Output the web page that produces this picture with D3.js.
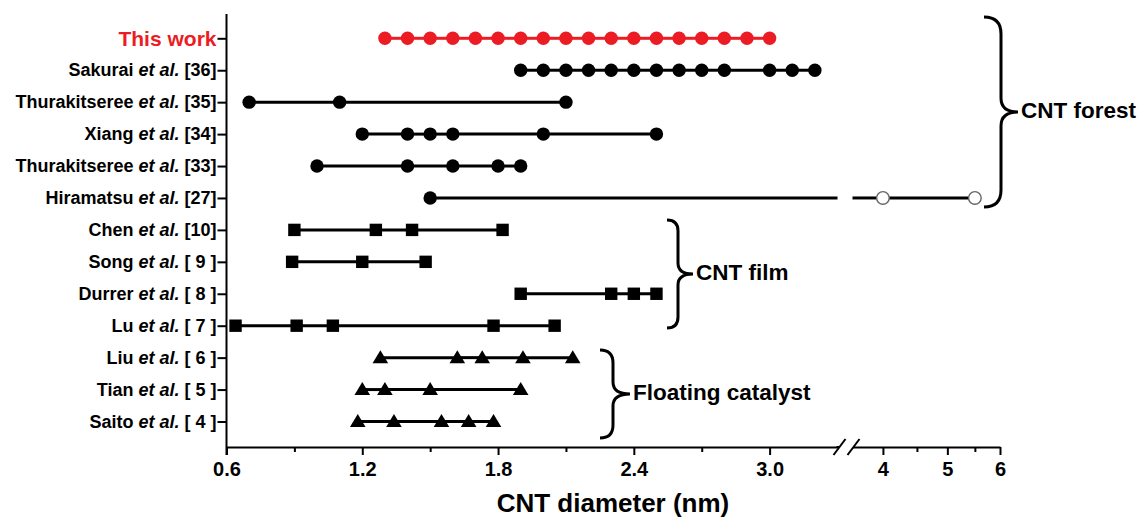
<!DOCTYPE html>
<html>
<head>
<meta charset="utf-8">
<script src="https://cdn.jsdelivr.net/npm/d3@7"></script>
<style>
  html, body { margin: 0; padding: 0; background: #fff; }
  svg { display: block; font-family: "Liberation Sans", Arial, Helvetica, sans-serif; }
</style>
</head>
<body>
<svg id="chart" width="1145" height="520"></svg>
<script>
// ---------------- DATA ----------------
const rowKeys   = ["this", "sak36", "thu35", "xia34", "thu33", "hir27", "che10", "son9", "dur8", "lu7", "liu6", "tia5", "sai4"];
const authors   = ["This work", "Sakurai", "Thurakitseree", "Xiang", "Thurakitseree", "Hiramatsu", "Chen", "Song", "Durrer", "Lu", "Liu", "Tian", "Saito"];
const refs      = ["", "[36]", "[35]", "[34]", "[33]", "[27]", "[10]", "[ 9 ]", "[ 8 ]", "[ 7 ]", "[ 6 ]", "[ 5 ]", "[ 4 ]"];
const markerTypes = ["redcircle", "circle", "circle", "circle", "circle", "circle", "square", "square", "square", "square", "triangle", "triangle", "triangle"];

const thisWork   = [1.3, 1.4, 1.5, 1.6, 1.7, 1.8, 1.9, 2.0, 2.1, 2.2, 2.3, 2.4, 2.5, 2.6, 2.7, 2.8, 2.9, 3.0];
const sakurai36  = [1.9, 2.0, 2.1, 2.2, 2.3, 2.4, 2.5, 2.6, 2.7, 2.8, 3.0, 3.1, 3.2];
const thura35    = [0.7, 1.1, 2.1];
const xiang34    = [1.2, 1.4, 1.5, 1.6, 2.0, 2.5];
const thura33    = [1.0, 1.4, 1.6, 1.8, 1.9];
const hiramatsu27 = [1.5, 4.0, 5.5];
const hiramatsuOpen = [false, true, true];
const chen10     = [0.9, 1.26, 1.42, 1.82];
const song9      = [0.89, 1.2, 1.48];
const durrer8    = [1.9, 2.3, 2.4, 2.5];
const lu7        = [0.64, 0.91, 1.07, 1.78, 2.05];
const liu6       = [1.28, 1.62, 1.73, 1.91, 2.13];
const tian5      = [1.2, 1.3, 1.5, 1.9];
const saito4     = [1.18, 1.34, 1.55, 1.67, 1.78];
const seriesValues = [thisWork, sakurai36, thura35, xiang34, thura33, hiramatsu27, chen10, song9, durrer8, lu7, liu6, tian5, saito4];

const majorTicksLin = [0.6, 1.2, 1.8, 2.4, 3.0];
const minorTicksLin = [0.9, 1.5, 2.1, 2.7];
const majorTicksLog = [4, 5, 6];
const minorTicksLog = [4.5, 5.5];
const axisTitle = "CNT diameter (nm)";

const groups = [
  { name: "CNT forest",        from: "this",  to: "hir27" },
  { name: "CNT film",          from: "che10", to: "lu7"   },
  { name: "Floating catalyst", from: "liu6",  to: "sai4"  }
];

// ---------------- LAYOUT ----------------
const svg = d3.select("#chart");
const axisY = 447;
const axisLeftX = 226.5;
const RED = "#ec1c24";

const linDomain = [0.6, 3.3], logDomain = [3.6, 6];
const xLin = d3.scaleLinear().domain(linDomain).range([axisLeftX, 837.5]);
const xLog = d3.scaleLog().domain(logDomain).range([852.5, 1000]);
const breakValue = 3.45;
const xPos = v => v <= breakValue ? xLin(v) : xLog(v);

const y = d3.scalePoint().domain(rowKeys).range([38.3, 421.5]);

// ---------------- AXES ----------------
const gx = svg.append("g").attr("transform", `translate(0,${axisY})`);
const fmt1 = d3.format(".1f");

function styleAxis(g) {
  g.selectAll("path.domain").attr("stroke", "#000").attr("stroke-width", 2);
  g.selectAll(".tick line").attr("stroke", "#000").attr("stroke-width", 2);
  g.selectAll(".tick text").attr("fill", "#000").attr("font-size", 20).attr("font-weight", "bold")
    .attr("font-family", "'Liberation Sans', Arial, sans-serif");
}

const axLin = gx.append("g").call(d3.axisBottom(xLin).tickValues(majorTicksLin).tickFormat(fmt1).tickSize(8).tickSizeOuter(0).tickPadding(7));
styleAxis(axLin);
const axLinMinor = gx.append("g").call(d3.axisBottom(xLin).tickValues(minorTicksLin).tickFormat("").tickSize(5).tickSizeOuter(0));
styleAxis(axLinMinor); axLinMinor.select("path.domain").remove();

const axLog = gx.append("g").call(d3.axisBottom(xLog).tickValues(majorTicksLog).tickFormat(d3.format("d")).tickSize(8).tickSizeOuter(0).tickPadding(7));
styleAxis(axLog);
const axLogMinor = gx.append("g").call(d3.axisBottom(xLog).tickValues(minorTicksLog).tickFormat("").tickSize(5).tickSizeOuter(0));
styleAxis(axLogMinor); axLogMinor.select("path.domain").remove();

// break marks
const bx0 = xLin.range()[1], bx1 = xLog.range()[0];
[bx0 + 2, bx1 + 1].forEach(cx => {
  gx.append("line").attr("x1", cx - 6).attr("y1", 8).attr("x2", cx + 6).attr("y2", -8)
    .attr("stroke", "#000").attr("stroke-width", 2);
});
// extend axis lines to slash feet
gx.append("line").attr("x1", bx0 - 1).attr("x2", bx0 + 2).attr("y1", 0).attr("y2", 0).attr("stroke", "#000").attr("stroke-width", 2);

// x axis title
svg.append("text").attr("x", 613).attr("y", 512).attr("text-anchor", "middle")
  .attr("font-size", 26).attr("font-weight", "bold").text(axisTitle);

// y axis
const gy = svg.append("g").attr("transform", `translate(${axisLeftX},0)`);
gy.call(d3.axisLeft(y).tickSize(9).tickSizeOuter(0).tickFormat(""));
gy.select("path.domain").remove();
gy.selectAll(".tick line").attr("stroke", "#000").attr("stroke-width", 2);
gy.append("line").attr("x1", 0).attr("x2", 0).attr("y1", 14).attr("y2", axisY + 8)
  .attr("stroke", "#000").attr("stroke-width", 2);

// y labels
const labels = svg.append("g");
rowKeys.forEach((k, i) => {
  const t = labels.append("text")
    .attr("x", axisLeftX - 10).attr("y", y(k))
    .attr("text-anchor", "end").attr("dominant-baseline", "central")
    .attr("font-weight", "bold");
  if (i === 0) {
    t.attr("font-size", 21).attr("fill", RED).text(authors[i]);
  } else {
    t.attr("font-size", 18).attr("fill", "#000");
    t.append("tspan").text(authors[i] + " ");
    t.append("tspan").attr("font-style", "italic").text("et al.");
    t.append("tspan").text(" " + refs[i]);
  }
});

// ---------------- SERIES ----------------
const plot = svg.append("g");
seriesValues.forEach((vals, i) => {
  const k = rowKeys[i], yy = y(k);
  const color = i === 0 ? RED : "#000";
  // lines between consecutive points (split across the axis break)
  for (let j = 0; j < vals.length - 1; j++) {
    const a = vals[j], b = vals[j + 1];
    if (a <= breakValue && b > breakValue) {
      plot.append("line").attr("x1", xPos(a)).attr("x2", xLin(linDomain[1])).attr("y1", yy).attr("y2", yy)
        .attr("stroke", color).attr("stroke-width", 3);
      plot.append("line").attr("x1", xLog(logDomain[0])).attr("x2", xPos(b)).attr("y1", yy).attr("y2", yy)
        .attr("stroke", color).attr("stroke-width", 3);
    } else {
      plot.append("line").attr("x1", xPos(a)).attr("x2", xPos(b)).attr("y1", yy).attr("y2", yy)
        .attr("stroke", color).attr("stroke-width", 3);
    }
  }
  // markers
  vals.forEach((v, j) => {
    const cx = xPos(v);
    const type = markerTypes[i];
    if (type === "redcircle") {
      plot.append("circle").attr("cx", cx).attr("cy", yy).attr("r", 6.7).attr("fill", RED);
    } else if (type === "circle") {
      const open = (k === "hir27") && hiramatsuOpen[j];
      if (open) {
        plot.append("circle").attr("cx", cx).attr("cy", yy).attr("r", 6.3)
          .attr("fill", "#fff").attr("stroke", "#666").attr("stroke-width", 1.4);
      } else {
        plot.append("circle").attr("cx", cx).attr("cy", yy).attr("r", 6.7).attr("fill", "#000");
      }
    } else if (type === "square") {
      plot.append("rect").attr("x", cx - 6.2).attr("y", yy - 6.2).attr("width", 12.4).attr("height", 12.4).attr("fill", "#000");
    } else {
      plot.append("path").attr("d", `M${cx},${yy - 7.5} L${cx + 7.8},${yy + 5.5} L${cx - 7.8},${yy + 5.5} Z`).attr("fill", "#000");
    }
  });
});

// ---------------- BRACES ----------------
const braceCfg = {
  "CNT forest":        { x: 1001, r: 17, tip: 1018, pad: 14, top: 17,  bot: 207 },
  "CNT film":          { x: 678,  r: 11, tip: 693,  pad: 11, top: 220, bot: 328 },
  "Floating catalyst": { x: 613,  r: 13, tip: 630,  pad: 12, top: 350, bot: 438 }
};
groups.forEach(g => {
  const c = braceCfg[g.name];
  const mid = (c.top + c.bot) / 2;
  const d = `M${c.x - c.r},${c.top} Q${c.x},${c.top} ${c.x},${c.top + c.r}` +
            ` L${c.x},${mid - c.pad} Q${c.x},${mid} ${c.tip},${mid}` +
            ` Q${c.x},${mid} ${c.x},${mid + c.pad} L${c.x},${c.bot - c.r}` +
            ` Q${c.x},${c.bot} ${c.x - c.r},${c.bot}`;
  svg.append("path").attr("d", d).attr("fill", "none").attr("stroke", "#000").attr("stroke-width", 3);
  svg.append("text").attr("x", c.tip + 3).attr("y", mid - 2).attr("dominant-baseline", "central")
    .attr("font-size", 22.5).attr("font-weight", "bold").text(g.name);
});
</script>
</body>
</html>
